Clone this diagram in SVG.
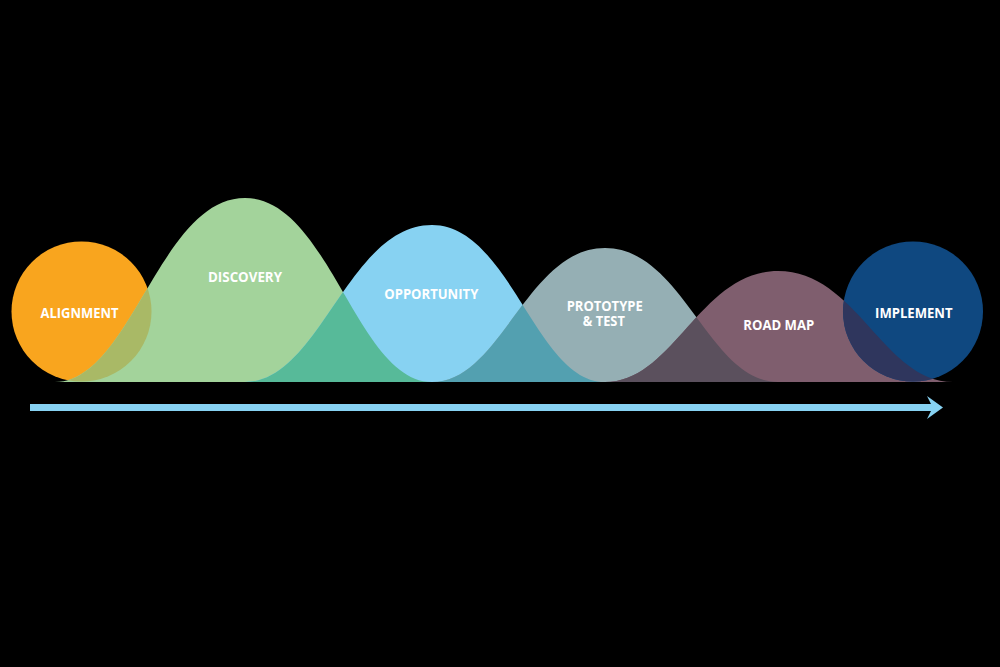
<svg xmlns="http://www.w3.org/2000/svg" width="1000" height="667" viewBox="0 0 1000 667">
<style>
.lbl{font-family:"Open Sans","DejaVu Sans",sans-serif;font-weight:700;font-size:15px;fill:#ffffff;text-anchor:middle}
</style>
<defs>
<circle id="cAlign" cx="81.5" cy="311.5" r="70"/>
<circle id="cImpl" cx="913" cy="311.5" r="70"/>
<path id="pDisc" d="M55,382 C131,382 159.5,198 245,198 C329,198 357,382 432,382 Z"/>
<path id="pOpp" d="M245,382 C320,382 348,225 432,225 C510,225 536,382 605,382 Z"/>
<path id="pProt" d="M432,382 C501,382 527,248 605,248 C683,248 709,382 778,382 Z"/>
<path id="pRoad" d="M605,382 C674,382 700,271 778,271 C857,271 883,382 953,382 Z"/>
<clipPath id="clAlign"><use href="#cAlign"/></clipPath>
<clipPath id="clOpp"><use href="#pOpp"/></clipPath>
<clipPath id="clProt"><use href="#pProt"/></clipPath>
<clipPath id="clRoad"><use href="#pRoad"/></clipPath>
<clipPath id="clImpl"><use href="#cImpl"/></clipPath>
</defs>
<rect width="1000" height="667" fill="#000000"/>
<g id="alignment">
<use href="#cAlign" fill="#F9A51E"/>
</g>
<g id="discovery">
<use href="#pDisc" fill="#A3D39B"/>
</g>
<g id="opportunity">
<use href="#pOpp" fill="#87D2F2"/>
</g>
<g id="prototype">
<use href="#pProt" fill="#95AFB4"/>
</g>
<g id="roadmap">
<use href="#pRoad" fill="#7F5E6E"/>
</g>
<g id="implement">
<use href="#cImpl" fill="#0F4880"/>
</g>
<g id="overlaps">
<use href="#pDisc" fill="#A9B966" clip-path="url(#clAlign)"/>
<use href="#pDisc" fill="#57BA99" clip-path="url(#clOpp)"/>
<use href="#pOpp" fill="#53A0B0" clip-path="url(#clProt)"/>
<use href="#pProt" fill="#5B505D" clip-path="url(#clRoad)"/>
<use href="#pRoad" fill="#2F365D" clip-path="url(#clImpl)"/>
</g>
<g id="labels">
<text class="lbl" x="79.5" y="318" textLength="78" lengthAdjust="spacingAndGlyphs">ALIGNMENT</text>
<text class="lbl" x="245" y="281.5" textLength="74" lengthAdjust="spacingAndGlyphs">DISCOVERY</text>
<text class="lbl" x="431.3" y="299" textLength="94" lengthAdjust="spacingAndGlyphs">OPPORTUNITY</text>
<text class="lbl"><tspan x="604.7" y="310.5" textLength="76" lengthAdjust="spacingAndGlyphs">PROTOTYPE</tspan><tspan x="603.8" y="326" textLength="42" lengthAdjust="spacingAndGlyphs">&amp; TEST</tspan></text>
<text class="lbl" x="778.8" y="330" textLength="71" lengthAdjust="spacingAndGlyphs">ROAD MAP</text>
<text class="lbl" x="913.8" y="318" textLength="77.5" lengthAdjust="spacingAndGlyphs">IMPLEMENT</text>
</g>
<g id="connectors">
<path d="M30,404 H931 L927,396 L943,407.5 L927,419 L931,411 H30 Z" fill="#87D2F2"/>
</g>
</svg>
